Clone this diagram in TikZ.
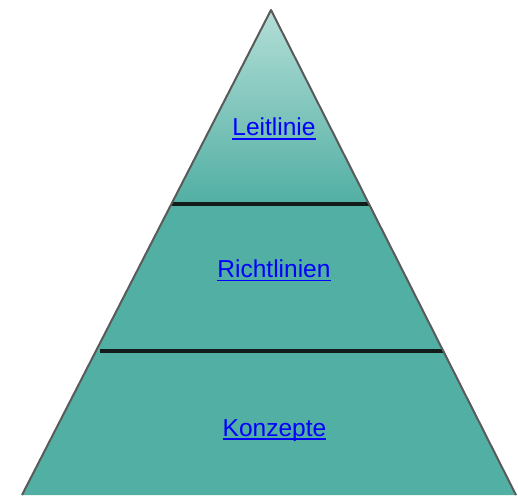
\documentclass[tikz,border=0pt]{standalone}
\usepackage{fontspec}
\setmainfont{Liberation Sans}
\definecolor{teal1}{HTML}{52AFA3}
\definecolor{tealtop}{HTML}{B2DED7}
\definecolor{linkblue}{HTML}{0000FF}
\definecolor{sepline}{HTML}{121C1B}
\definecolor{edge}{HTML}{5A5A5A}
\tikzset{
  lbl/.style={text=linkblue, font=\fontsize{24.5}{28}\selectfont, inner sep=0pt, anchor=base},
  uline/.style={draw=linkblue, line width=1.4pt},
  sep/.style={draw=sepline, line width=3.2pt},
  outline/.style={draw=edge, line width=2pt, line join=round}
}
\begin{document}
\begin{tikzpicture}[x=1pt,y=1pt]
\useasboundingbox (0,0) rectangle (518,495);
% corners
\coordinate (apex) at (271,485);
\coordinate (bl) at (22,0);
\coordinate (br) at (516,0);
\coordinate (l1) at (171.4,291);
\coordinate (r1) at (369,291);
\coordinate (l2) at (99.6,144);
\coordinate (r2) at (443.3,144);
% body
\fill[teal1] (apex) -- (br) -- (bl) -- cycle;
\shade[top color=tealtop, bottom color=teal1] (apex) -- (r1) -- (l1) -- cycle;
\draw[sep] (l1) -- (r1);
\draw[sep] (l2) -- (r2);
\draw[outline] (bl) -- (apex) -- (br);
% labels
\node[lbl] (lt) at (274,359) {Leitlinie};
\node[lbl] (rl) at (274,217.5) {Richtlinien};
\node[lbl] (kz) at (274.5,59) {Konzepte};
\foreach \n in {lt,rl,kz}
  \draw[uline] ([yshift=-3pt]\n.base west) -- ([yshift=-3pt]\n.base east);
\end{tikzpicture}
\end{document}
